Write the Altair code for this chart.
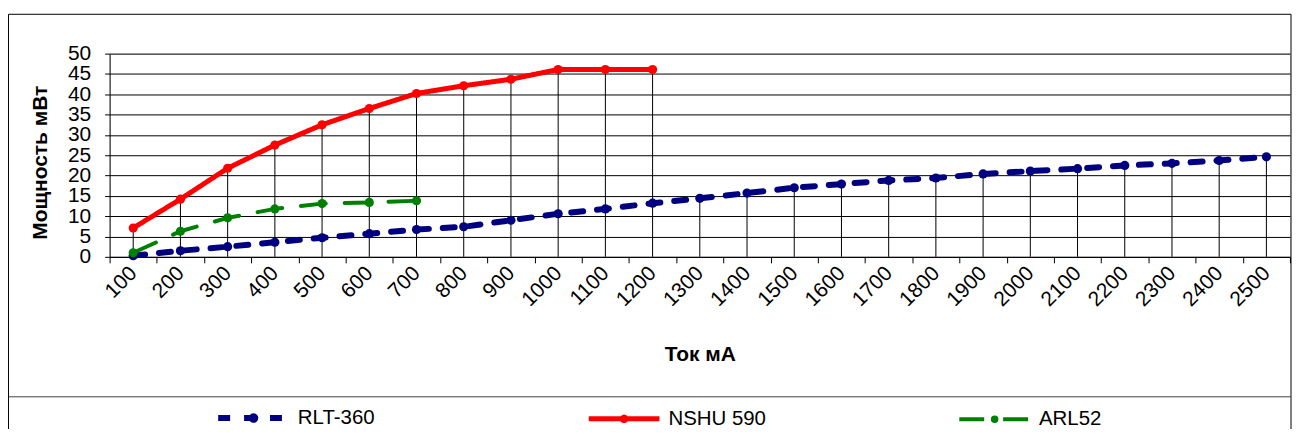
import altair as alt
import pandas as pd

# ---- data ----
currents = ["100", "200", "300", "400", "500", "600", "700", "800", "900", "1000",
            "1100", "1200", "1300", "1400", "1500", "1600", "1700", "1800", "1900",
            "2000", "2100", "2200", "2300", "2400", "2500"]
rlt360 = [0.3, 1.5, 2.5, 3.6, 4.7, 5.7, 6.7, 7.4, 9.0, 10.6, 11.8, 13.2, 14.4,
          15.7, 17.0, 17.9, 18.8, 19.4, 20.4, 21.1, 21.7, 22.5, 23.0, 23.7, 24.6]
nshu590 = [7.1, 14.2, 21.8, 27.5, 32.5, 36.5, 40.2, 42.1, 43.7, 46.1, 46.1, 46.1]
arl52 = [1.0, 6.3, 9.6, 11.8, 13.1, 13.4, 13.8]

series_names = ["RLT-360", "NSHU 590", "ARL52"]
series_values = [rlt360, nshu590, arl52]
series_colors = ["#000080", "#FF0000", "#008000"]
series_dashes = [[12, 14], [1, 0], [25, 19]]
series_widths = [6, 4, 4]
y_ticks = list(range(0, 55, 5))

rows = []
for name, vals in zip(series_names, series_values):
    for i, v in enumerate(vals):
        rows.append({"current": currents[i], "idx": i, "series": name, "value": v})
df = pd.DataFrame(rows)
drops = df.groupby(["current", "idx"], as_index=False)["value"].max()

FONT = "Liberation Sans"
FS = 21
W, H = 1185, 204

xscale = alt.Scale(type="band", domain=currents, paddingInner=0, paddingOuter=0)
yscale = alt.Scale(domain=[0, 50], nice=False)
cscale = alt.Scale(domain=series_names, range=series_colors)

x_axis = alt.Axis(
    title="Ток мА", titleFont=FONT, titleFontSize=FS, titleFontWeight="bold",
    titleColor="black", titleY=98, titleBaseline="middle",
    labelFont=FONT, labelFontSize=FS, labelColor="black", labelAngle=-45,
    labelAlign="right", labelBaseline="middle", labelPadding=7,
    tickBand="extent", tickSize=6, tickColor="black", domainColor="black",
    grid=False, labelOverlap=False,
)
y_axis = alt.Axis(
    title="Мощность мВт", titleFont=FONT, titleFontSize=FS, titleFontWeight="bold",
    titleColor="black", titleX=-69, titleY=109, titleAngle=270,
    titleAlign="center", titleBaseline="middle",
    values=y_ticks, tickCount=len(y_ticks), labelOverlap=False, labelFont=FONT,
    labelFontSize=FS, labelColor="black", labelPadding=14, tickSize=5,
    tickColor="black", domainColor="black", grid=True, gridColor="black", gridWidth=1,
)

X = alt.X("current:O", scale=xscale, axis=x_axis)
Y = alt.Y("value:Q", scale=yscale, axis=y_axis)

base = alt.Chart(df)

one = pd.DataFrame({"k": [0]})
frame = alt.Chart(one).mark_rect(fillOpacity=0, stroke="black", strokeWidth=1).encode(
    x=alt.value(-101.5), x2=alt.value(1186), y=alt.value(-39.5), y2=alt.value(420)
)
separator = alt.Chart(one).mark_rule(color="#404040", strokeWidth=1).encode(
    x=alt.value(-101.5), x2=alt.value(1186), y=alt.value(344.5)
)

droplines = alt.Chart(drops).mark_rule(color="black", strokeWidth=1).encode(
    x=X, y=Y, y2=alt.datum(0),
)

legend = alt.Legend(
    orient="none", legendX=106, legendY=327, direction="horizontal", columns=3,
    gridAlign="all", columnPadding=184, padding=0, title=None,
    symbolType="M-1,0L1,0M-0.05,0A0.05,0.05,0,1,1,0.05,0A0.05,0.05,0,1,1,-0.05,0",
    symbolSize=71 * 71, symbolStrokeWidth=5, labelFont=FONT, labelFontSize=20.5,
    labelColor="black", labelOffset=6,
)

lines = base.mark_line(strokeCap="round", strokeJoin="round").encode(
    x=X, y=Y,
    color=alt.Color("series:N", scale=cscale, legend=legend),
    strokeDash=alt.StrokeDash("series:N", scale=alt.Scale(domain=series_names, range=series_dashes), legend=legend),
    strokeWidth=alt.StrokeWidth("series:N", scale=alt.Scale(domain=series_names, range=series_widths), legend=None),
    order=alt.Order("idx:Q"),
)

points = base.mark_circle(size=85, opacity=1).encode(
    x=X, y=Y,
    color=alt.Color("series:N", scale=cscale, legend=None),
)

chart = alt.layer(frame, separator, droplines, lines, points).properties(
    width=W, height=H,
    autosize=alt.AutoSizeParams(type="none"),
    padding={"left": 102, "top": 45, "right": 3, "bottom": 172},
).configure_view(strokeWidth=0).configure(background="white")

chart.save("out.html", embed_options={"renderer": "svg", "actions": False})
